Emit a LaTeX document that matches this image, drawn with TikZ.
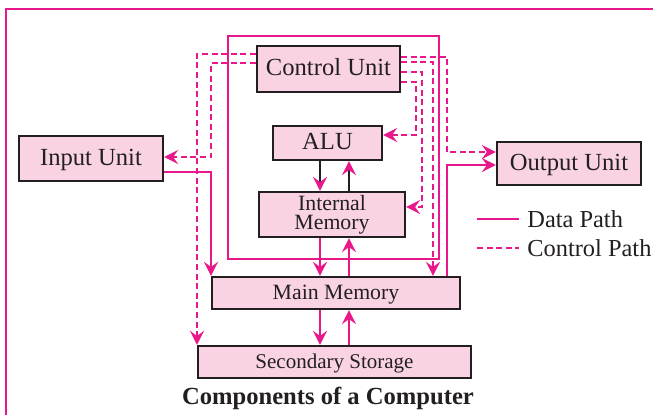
\documentclass[tikz,border=0pt]{standalone}
\usepackage{fontspec}
\setmainfont{Liberation Serif}
\usetikzlibrary{arrows.meta}
\definecolor{pk}{HTML}{E8178A}
\definecolor{boxfill}{HTML}{F9D3E4}
\definecolor{bordc}{HTML}{231F20}
\begin{document}
\begin{tikzpicture}[x=0.5pt,y=-0.5pt,
  unit/.style={draw=bordc,line width=1.1pt,fill=boxfill,inner sep=0pt,text=bordc,
    font=\fontsize{12.3}{14}\selectfont,text height=0.66em,text depth=0pt},
  smallunit/.style={unit,font=\fontsize{10.9}{12}\selectfont},
  data/.style={draw=pk,line width=1.1pt},
  ctrl/.style={draw=pk,line width=1.1pt,dash pattern=on 3pt off 1.8pt},
  tip/.style={-{Stealth[length=7pt,width=7pt,inset=2.5pt,color=pk]}},
  legtext/.style={anchor=west,inner sep=0pt,text=bordc,font=\fontsize{12.2}{14}\selectfont}]
\useasboundingbox (0,0) rectangle (653,414);
\clip (0,0) rectangle (653,414);
% outer frame
\draw[pk,line width=1.3pt] (6,9) rectangle (700,460);

% boxes
\node[unit,minimum width=71.5pt,minimum height=23pt] (CU) at (328.5,69) {Control Unit};
\node[unit,minimum width=54.5pt,minimum height=17pt] (ALU) at (327.5,143) {ALU};
\node[draw=bordc,line width=1.1pt,fill=boxfill,inner sep=0pt,text=bordc,align=center,
  font=\fontsize{10.9}{9.7}\selectfont,minimum width=73pt,minimum height=22.5pt] (IM) at (332,214.5) {Internal\\Memory};
\node[smallunit,minimum width=124pt,minimum height=16pt] (MM) at (336,293) {Main Memory};
\node[unit,font=\fontsize{10.5}{12}\selectfont,minimum width=136.5pt,minimum height=16pt] (SS) at (334.5,362) {Secondary Storage};
\node[unit,minimum width=72pt,minimum height=22.5pt] (IU) at (91,158.5) {Input Unit};
\node[unit,minimum width=72pt,minimum height=21.5pt] (OU) at (569,163.5) {Output Unit};

% data path loop
\draw[data] (228,36) rectangle (439,259);

% control paths
\draw[ctrl,tip] (CU.west |- 0,54) -| (SS.north -| 197,0);
\draw[ctrl,tip] (CU.west |- 0,63) -| (211,157) -- (IU.east |- 0,157);
\draw[ctrl,tip] (CU.east |- 0,57) -| (447,152) -- (OU.west |- 0,152);
\draw[ctrl,tip] (CU.east |- 0,62) -| (MM.north -| 433,0);
\draw[ctrl,tip] (CU.east |- 0,72) -| (422,207) -- (IM.east |- 0,207);
\draw[ctrl,tip] (CU.east |- 0,82) -| (416,135) -- (ALU.east |- 0,135);

% data paths
\draw[data,tip] (IU.east |- 0,172) -| (MM.north -| 211,0);
\draw[data,tip] (MM.north -| 447,0) |- (OU.west |- 0,165);
\draw[draw=bordc,line width=1.1pt,tip] (ALU.south -| 320,0) -- (IM.north -| 320,0);
\draw[draw=bordc,line width=1.1pt,tip] (IM.north -| 349,0) -- (ALU.south -| 349,0);
\draw[data,tip] (IM.south -| 320,0) -- (MM.north -| 320,0);
\draw[data,tip] (MM.north -| 349,0) -- (IM.south -| 349,0);
\draw[data,tip] (MM.south -| 320,0) -- (SS.north -| 320,0);
\draw[data,tip] (SS.north -| 349,0) -- (MM.south -| 349,0);

% legend
\node[legtext] (dp) at (527,219) {Data Path};
\node[legtext] (cp) at (527,248) {Control Path};
\coordinate (dpS) at (477,219);
\coordinate (cpS) at (477,248);
\draw[data] (dpS) -- ([xshift=-4pt]dp.west);
\draw[ctrl] (cpS) -- ([xshift=-4pt]cp.west);

% title
\node[text=bordc,font=\bfseries\fontsize{12.3}{14}\selectfont] (title) at (328,398) {Components of a Computer};
\end{tikzpicture}
\end{document}
